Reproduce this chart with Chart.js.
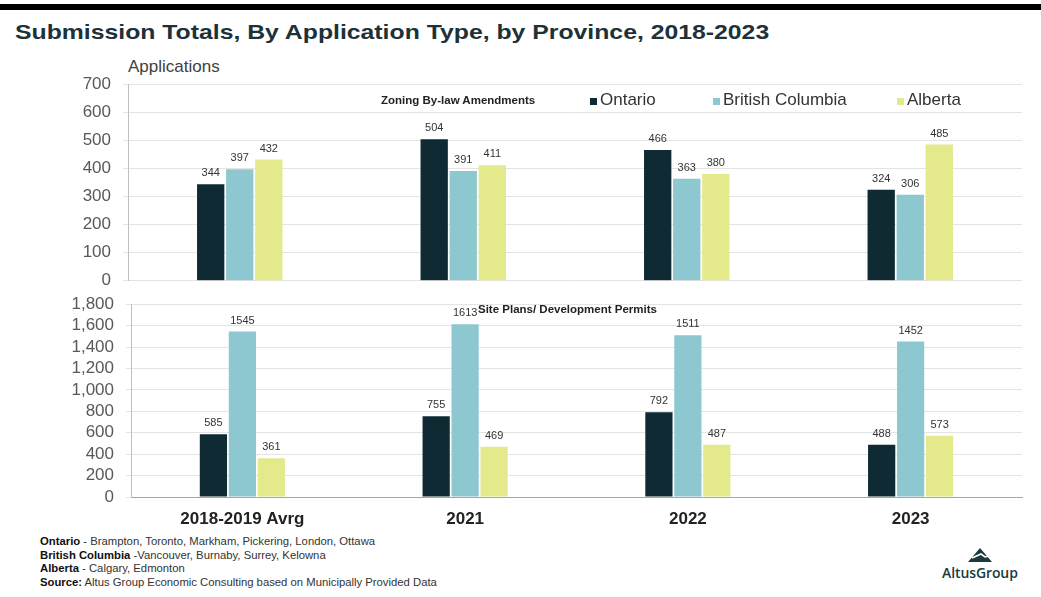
<!DOCTYPE html>
<html>
<head>
<meta charset="utf-8">
<script src="https://cdn.jsdelivr.net/npm/chart.js@4.4.0/dist/chart.umd.min.js"></script>
<style>
  body { margin: 0; background: #fff; font-family: Arial, "Liberation Sans", sans-serif; }
  #page { position: relative; width: 1041px; height: 597px; overflow: hidden; background: #fff; }
  #topbar { position: absolute; left: 0; top: 4px; width: 1041px; height: 6px; background: #000; }
  #title { position: absolute; left: 15px; top: 20px; font-size: 21px; font-weight: bold; color: #1c3138; white-space: nowrap; transform: scaleX(1.18); transform-origin: 0 0; }
  #ylab { position: absolute; left: 128px; top: 57px; font-size: 17px; color: #404040; }
  canvas { position: absolute; left: 0; }
  #c1 { top: 62px; }
  #c2 { top: 282px; }
  .sub { position: absolute; font-size: 11.5px; font-weight: bold; color: #222; white-space: nowrap; }
  .leg { position: absolute; top: 90px; font-size: 17px; color: #333; white-space: nowrap; }
  .leg i { position: absolute; left: -10px; top: 8px; width: 7px; height: 7px; }
  #foot { position: absolute; left: 40px; top: 535px; font-size: 11.3px; line-height: 13.6px; color: #333; }
  #foot b { color: #111; }
  #logo { position: absolute; left: 936px; top: 543px; width: 90px; height: 45px; }
  #logo span { position: absolute; left: 6px; top: 20px; font-family: "Open Sans", sans-serif; font-size: 14px; font-weight: 600; color: #1d3a40; letter-spacing: -0.1px; }
</style>
</head>
<body>
<div id="page">
  <div id="topbar"></div>
  <div id="title">Submission Totals, By Application Type, by Province, 2018-2023</div>
  <div id="ylab">Applications</div>
  <canvas id="c1" width="1041" height="241"></canvas>
  <canvas id="c2" width="1041" height="248"></canvas>
  <div class="sub" style="left:381px; top:94px;">Zoning By-law Amendments</div>
  <div class="sub" style="left:478px; top:303px;">Site Plans/ Development Permits</div>
  <div id="legend"></div>
  <div id="foot">
    <b>Ontario</b> - Brampton, Toronto, Markham, Pickering, London, Ottawa<br>
    <b>British Columbia</b> -Vancouver, Burnaby, Surrey, Kelowna<br>
    <b>Alberta</b> - Calgary, Edmonton<br>
    <b>Source:</b> Altus Group Economic Consulting based on Municipally Provided Data
  </div>
  <div id="logo">
    <svg width="90" height="22" style="position:absolute;left:0;top:0">
      <polygon points="44,5 32,19 56,19" fill="#1d3a40"/>
      <polyline points="36,15 45,11 49,14 53,13" fill="none" stroke="#fff" stroke-width="1.6"/>
    </svg>
    <span>AltusGroup</span>
  </div>
</div>
<script>
const categories = ["2018-2019 Avrg", "2021", "2022", "2023"];
const provinces = ["Ontario", "British Columbia", "Alberta"];
const colors = ["#0f2a33", "#8dc8d1", "#e4e98c"];

// Zoning By-law Amendments
const zoningOntario = [344, 504, 466, 324];
const zoningBC = [397, 391, 363, 306];
const zoningAlberta = [432, 411, 380, 485];

// Site Plans / Development Permits
const siteOntario = [585, 755, 792, 488];
const siteBC = [1545, 1613, 1511, 1452];
const siteAlberta = [361, 469, 487, 573];

const zoningAxis = { max: 700, step: 100 };
const siteAxis = { max: 1800, step: 200 };

const legendX = [600, 723, 907];

// legend
const legEl = document.getElementById("legend");
provinces.forEach((p, i) => {
  const d = document.createElement("div");
  d.className = "leg";
  d.style.left = legendX[i] + "px";
  d.innerHTML = '<i style="background:' + colors[i] + '"></i>' + p;
  legEl.appendChild(d);
});

const valueLabels = {
  id: "valueLabels",
  afterDatasetsDraw(chart) {
    const ctx = chart.ctx;
    ctx.save();
    ctx.font = "11px Arial";
    ctx.fillStyle = "#333";
    ctx.textAlign = "center";
    ctx.textBaseline = "middle";
    chart.data.datasets.forEach((ds, i) => {
      chart.getDatasetMeta(i).data.forEach((bar, j) => {
        ctx.fillText(ds.data[j], bar.x, bar.y - 11);
      });
    });
    ctx.restore();
  }
};

function makeDatasets(series) {
  return series.map((s, i) => ({
    label: provinces[i],
    data: s,
    backgroundColor: colors[i],
    borderWidth: 0,
    barPercentage: 0.94,
    categoryPercentage: 0.39
  }));
}

function yScale(axis, width) {
  return {
    min: 0,
    max: axis.max,
    afterFit: s => { s.width = width; },
    grid: { color: "#e4e4e4", tickLength: 5 },
    border: { color: "#c0c0c0" },
    ticks: { stepSize: axis.step, autoSkip: false, padding: 12, color: "#595959", font: { size: 17, family: "Arial" } }
  };
}

new Chart(document.getElementById("c1"), {
  type: "bar",
  data: { labels: categories, datasets: makeDatasets([zoningOntario, zoningBC, zoningAlberta]) },
  options: {
    responsive: false,
    animation: false,
    devicePixelRatio: 1,
    layout: { padding: { top: 0, right: 19, bottom: 0, left: 0 } },
    plugins: { legend: { display: false }, tooltip: { enabled: false } },
    scales: {
      x: { display: false },
      y: yScale(zoningAxis, 128)
    }
  },
  plugins: [valueLabels]
});

new Chart(document.getElementById("c2"), {
  type: "bar",
  data: { labels: categories, datasets: makeDatasets([siteOntario, siteBC, siteAlberta]) },
  options: {
    responsive: false,
    animation: false,
    devicePixelRatio: 1,
    layout: { padding: { top: 0, right: 19, bottom: 0, left: 0 } },
    plugins: { legend: { display: false }, tooltip: { enabled: false } },
    scales: {
      x: {
        afterFit: s => { s.height = 33; },
        grid: { display: false, drawTicks: false },
        border: { color: "#a6a6a6" },
        ticks: { padding: 12, color: "#222", font: { size: 17, weight: "bold", family: "Arial" } }
      },
      y: yScale(siteAxis, 131)
    }
  },
  plugins: [valueLabels]
});
</script>
</body>
</html>
